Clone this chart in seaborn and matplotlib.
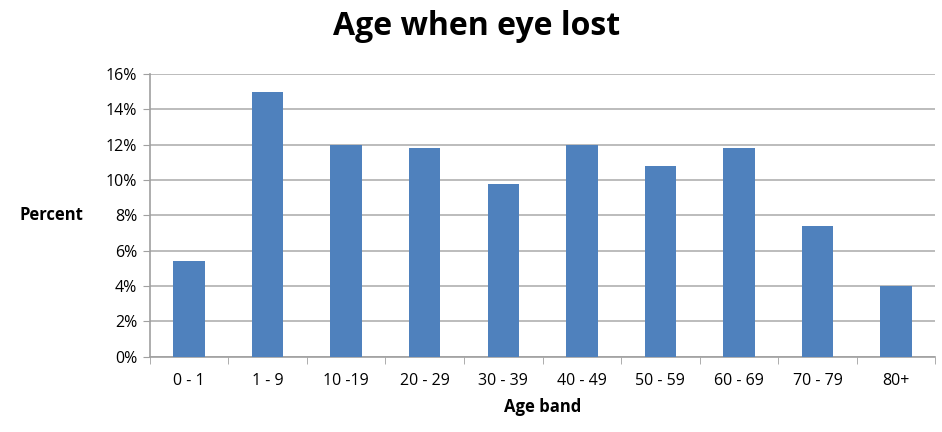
import seaborn as sns
import matplotlib.pyplot as plt
import numpy as np
import pandas as pd
from matplotlib.ticker import FuncFormatter, FixedLocator

age_bands = ['0 - 1', '1 - 9', '10 -19', '20 - 29', '30 - 39',
             '40 - 49', '50 - 59', '60 - 69', '70 - 79', '80+']
percent = [5.4, 15.0, 12.0, 11.8, 9.8, 12.0, 10.8, 11.8, 7.4, 4.0]

df = pd.DataFrame({'band': age_bands, 'percent': percent})

sns.set_style('white')
plt.rcParams['font.family'] = ['Open Sans', 'DejaVu Sans']
plt.rcParams['text.color'] = 'black'
plt.rcParams['axes.labelcolor'] = 'black'
plt.rcParams['xtick.labelcolor'] = 'black'
plt.rcParams['ytick.labelcolor'] = 'black'

fig = plt.figure(figsize=(9.42, 4.32), dpi=100)
ax = fig.add_axes([0.159, 0.174, 0.834, 0.655])

sns.barplot(data=df, x='band', y='percent', color='#4f81bd', width=0.4,
            saturation=1, linewidth=0, ax=ax, zorder=3)

ax.set_ylim(0, 16)
ax.set_yticks(range(0, 17, 2))
ax.yaxis.set_major_formatter(FuncFormatter(lambda v, p: f'{v:.0f}%'))
ax.grid(axis='y', color='#b0b0b0', linewidth=1.2, zorder=0)
ax.set_axisbelow(True)
ax.set_xlim(-0.5, len(age_bands) - 0.5)

for s in ['top', 'right']:
    ax.spines[s].set_visible(False)
for s in ['left', 'bottom']:
    ax.spines[s].set_color('#a0a0a0')
    ax.spines[s].set_linewidth(1.2)

ax.tick_params(axis='y', which='major', length=5, color='#a0a0a0',
               labelsize=11.5, pad=4, direction='out', left=True)
ax.tick_params(axis='x', which='major', length=0, labelsize=11.5, pad=12)
ax.xaxis.set_minor_locator(FixedLocator(np.arange(-0.5, len(age_bands), 1)))
ax.tick_params(axis='x', which='minor', length=5, color='#a0a0a0',
               direction='out', bottom=True)

ax.set_xlabel('Age band', fontsize=12, fontweight='bold', labelpad=6)
ax.set_ylabel('Percent', fontsize=12, fontweight='bold', rotation=0,
              ha='right', va='center')
ax.yaxis.set_label_coords(-0.085, 0.5)

fig.suptitle('Age when eye lost', fontsize=23, fontweight='bold',
             x=0.506, y=0.978)

fig.savefig('out.png', dpi=100)
